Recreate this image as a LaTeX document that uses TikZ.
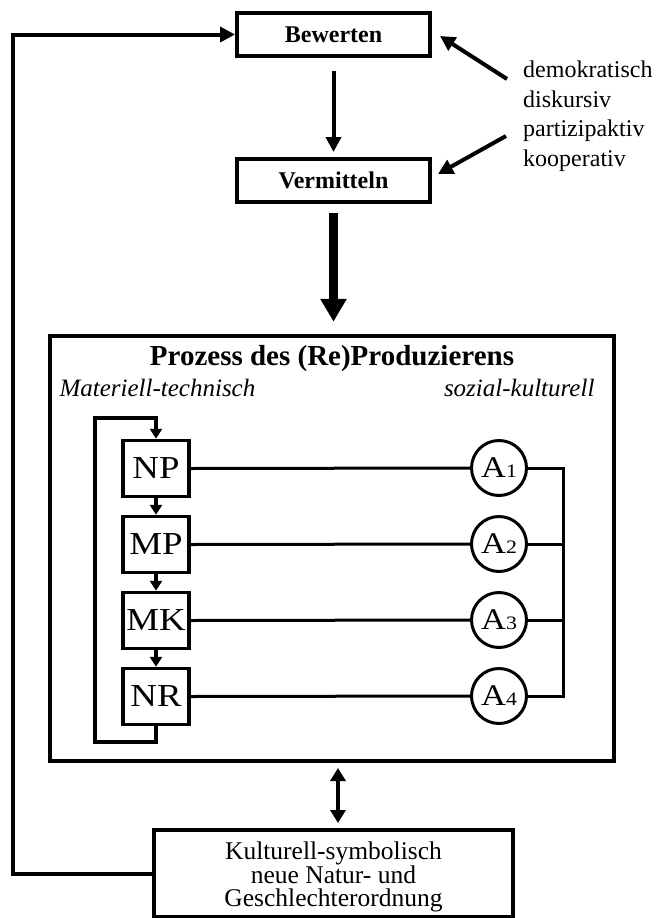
\documentclass[tikz,border=0pt]{standalone}
\usepackage{fontspec}
\setmainfont{Liberation Serif}
\newfontfamily\widefont{Liberation Serif}[FakeStretch=1.15]
\usetikzlibrary{arrows.meta,calc}
\begin{document}
\begin{tikzpicture}[x=1pt,y=-1pt,
  topbox/.style={draw,line width=4pt,minimum width=193pt,minimum height=43pt,inner sep=0pt,
    font=\fontsize{24}{26}\selectfont\bfseries},
  chainbox/.style={draw,line width=3.5pt,minimum width=66pt,minimum height=56pt,inner sep=0pt,
    font=\widefont\fontsize{32}{32}\selectfont},
  actor/.style={draw,circle,line width=3pt,minimum size=55pt,inner sep=0pt},
  rowline/.style={line width=3pt},
  arr/.style={line width=4pt,-{Triangle[length=15pt,width=15pt]}},
  bigarr/.style={line width=9pt,-{Triangle[length=23pt,width=25pt]}},
  smallarr/.style={line width=3.5pt,-{Triangle[length=10pt,width=12pt]}},
  dblarr/.style={line width=3.5pt,{Triangle[length=13pt,width=15pt]}-{Triangle[length=13pt,width=15pt]}},
]
\useasboundingbox (0,0) rectangle (658,918);
\fill[white] (0,0) rectangle (658,918);

% top boxes
\node[topbox] (bew) at (333.5,34.5) {Bewerten};
\node[topbox] (ver) at (333.5,180.5) {Vermitteln};

% side text
\node[anchor=west,align=left,inner sep=0pt,font=\fontsize{24}{29.5}\selectfont] (adj) at (523,116)
  {demokratisch\\diskursiv\\partizipaktiv\\kooperativ};
\coordinate (d1s) at (507,79);
\coordinate (d1e) at (440,36);
\coordinate (d2s) at (506,136);
\coordinate (d2e) at (438,174);
\draw[arr] (d1s) -- (d1e);
\draw[arr] (d2s) -- (d2e);

% arrows down
\draw[arr,shorten <=13pt,shorten >=5pt] (bew.south) -- (ver.north);

% Prozess box
\node[draw,line width=4.5pt,minimum width=564pt,minimum height=425pt,inner sep=0pt] (proz) at (332,548.5) {};
\draw[bigarr,shorten <=9pt,shorten >=12pt] (ver.south) -- (proz.north -| ver.south);
\node[font=\fontsize{29}{31}\selectfont\bfseries] (title) at (332,359) {Prozess des (Re)Produzierens};
\node[anchor=west,font=\fontsize{25}{27}\selectfont\itshape] (mt) at (56,388) {Materiell-technisch};
\node[anchor=east,font=\fontsize{25}{27}\selectfont\itshape] (sk) at (598,388) {sozial-kulturell};

% chain
\node[chainbox] (np) at (156,468.5) {NP};
\node[chainbox] (mp) at (156,544.5) {MP};
\node[chainbox] (mk) at (156,620.5) {MK};
\node[chainbox] (nr) at (156,696.5) {NR};
\draw[smallarr] (np.south) -- (mp.north);
\draw[smallarr] (mp.south) -- (mk.north);
\draw[smallarr] (mk.south) -- (nr.north);
\coordinate (lb) at (95,742);
\coordinate (lt) at (95,418);
\draw[smallarr] (nr.south) |- (lb) -- (lt) -| (np.north);

% actors
\node[actor] (a1) at (499,468) {\widefont\fontsize{30}{30}\selectfont A\fontsize{19}{19}\selectfont 1};
\node[actor] (a2) at (499,544) {\widefont\fontsize{30}{30}\selectfont A\fontsize{19}{19}\selectfont 2};
\node[actor] (a3) at (499,620) {\widefont\fontsize{30}{30}\selectfont A\fontsize{19}{19}\selectfont 3};
\node[actor] (a4) at (499,696) {\widefont\fontsize{30}{30}\selectfont A\fontsize{19}{19}\selectfont 4};
\coordinate (b1) at (563,468);
\coordinate (b2) at (563,544);
\coordinate (b3) at (563,620);
\coordinate (b4) at (563,696);
\draw[rowline] (np.east) -- (a1.west);
\draw[rowline] (mp.east) -- (a2.west);
\draw[rowline] (mk.east) -- (a3.west);
\draw[rowline] (nr.east) -- (a4.west);
\draw[rowline] (a1.east) -- (b1);
\draw[rowline] (a2.east) -- (b2);
\draw[rowline] (a3.east) -- (b3);
\draw[rowline] (a4.east) -- (b4);
\draw[rowline,line cap=rect] (b1) -- (b4);

% bottom box
\node[draw,line width=3.5pt,minimum width=359pt,minimum height=87pt,inner sep=0pt] (ks) at (333.5,873.5) {};
\node[align=center,inner sep=0pt,font=\fontsize{25.5}{23}\selectfont] (kstext) at (333.5,877)
  {Kulturell-symbolisch\\neue Natur- und\\Geschlechterordnung};
\coordinate (dtop) at (338,761);
\coordinate (dbot) at (338,830);
\draw[dblarr,shorten <=7pt,shorten >=7pt] (dtop) -- (dbot);

% feedback loop
\coordinate (fbl) at (13,873.5);
\coordinate (fbt) at (13,34.5);
\draw[arr] (ks.west) -- (fbl) -- (fbt) -- (bew.west);
\end{tikzpicture}
\end{document}
